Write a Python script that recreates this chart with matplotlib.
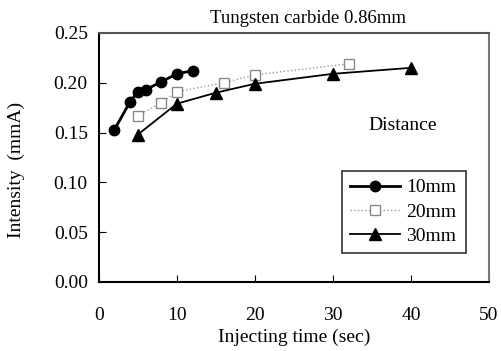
import matplotlib
matplotlib.use("Agg")
import matplotlib.pyplot as plt

# data
t_10mm = [2, 4, 5, 6, 8, 10, 12]
i_10mm = [0.153, 0.181, 0.191, 0.193, 0.201, 0.209, 0.212]

t_20mm = [5, 8, 10, 16, 20, 32]
i_20mm = [0.167, 0.180, 0.191, 0.200, 0.208, 0.219]

t_30mm = [5, 10, 15, 20, 30, 40]
i_30mm = [0.148, 0.179, 0.190, 0.199, 0.209, 0.215]

x_ticks = [0, 10, 20, 30, 40, 50]
y_ticks = [0.00, 0.05, 0.10, 0.15, 0.20, 0.25]

plt.rcParams["font.family"] = ["Liberation Serif", "DejaVu Serif"]

fig = plt.figure(figsize=(5.02, 3.51), dpi=100)
ax = fig.add_axes([0.197, 0.197, 0.777, 0.709])

ax.plot(t_10mm, i_10mm, color="black", lw=2, marker="o", ms=7.5, label="10mm")
ax.plot(t_20mm, i_20mm, color="#999999", lw=1, ls=":", marker="s", ms=7.5,
        mfc="white", mec="#888888", label="20mm")
ax.plot(t_30mm, i_30mm, color="black", lw=1.3, marker="^", ms=8, label="30mm")

ax.set_xlim(0, 50)
ax.set_ylim(0, 0.25)
ax.set_xticks(x_ticks)
ax.set_yticks(y_ticks)
ax.set_yticklabels(["%.2f" % v for v in y_ticks])
ax.tick_params(axis="x", direction="in", length=5, pad=18, labelsize=14)
ax.tick_params(axis="y", direction="in", length=5, pad=8, labelsize=14)

for s in ax.spines.values():
    s.set_linewidth(1.5)
ax.spines["right"].set_color("#777777")
ax.spines["top"].set_color("#555555")

ax.set_xlabel("Injecting time (sec)", fontsize=14)
ax.xaxis.set_label_coords(0.5, -0.19)
ax.set_ylabel("Intensity  (mmA)", fontsize=14)
ax.yaxis.set_label_coords(-0.19, 0.45)

fig.text(0.614, 0.948, "Tungsten carbide 0.86mm", ha="center", va="center",
         fontsize=13.5)
ax.text(0.78, 0.63, "Distance", transform=ax.transAxes, ha="center",
        va="center", fontsize=14)

leg = ax.legend(loc="lower left", bbox_to_anchor=(0.623, 0.116, 0.318, 0.366),
                mode="expand", fontsize=14, frameon=True, fancybox=False,
                handlelength=2.6, handletextpad=0.3, borderaxespad=0,
                labelspacing=0.35, borderpad=0.4)
leg.get_frame().set_edgecolor("black")
leg.get_frame().set_linewidth(1.2)

fig.savefig("out.png", dpi=100)
